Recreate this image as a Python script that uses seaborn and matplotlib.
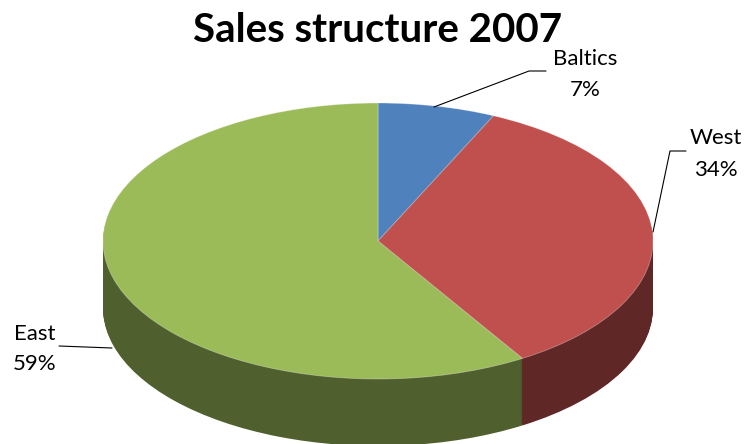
import matplotlib
matplotlib.use("Agg")
import matplotlib.pyplot as plt
import matplotlib.transforms as mtrans
import seaborn as sns

labels = ["Baltics", "West", "East"]
shares = [6.9, 34.3, 58.8]
top_colors = ["#4F81BD", "#C0504D", "#9BBB59"]
wall_colors = ["#2F4D71", "#5F2726", "#4F5F2D"]
title = "Sales structure 2007"

sns.set_theme(style="white")
plt.rcParams["font.family"] = ["Lato", "DejaVu Sans"]

W, H = 744, 444
CX, CY, RX, RY, DEPTH = 378, 241, 275, 138, 67

fig = plt.figure(figsize=(W / 100, H / 100), dpi=100)
ax = fig.add_axes([0, 0, 1, 1])

# Side wall: stacked copies of the pie, shifted downward
for step in range(DEPTH, 0, -1):
    ax.pie(shares, colors=sns.color_palette(wall_colors), startangle=90, counterclock=False,
           center=(0, -step / RY), radius=1, wedgeprops={"linewidth": 0})
# Top face
ax.pie(shares, colors=sns.color_palette(top_colors), startangle=90, counterclock=False,
       radius=1, wedgeprops={"linewidth": 0.6, "edgecolor": (1, 1, 1, 0.35)})

ax.set_aspect("auto")
ax.set_xlim(-CX / RX, (W - CX) / RX)
ax.set_ylim(-(H - CY) / RY, CY / RY)
ax.axis("off")

# Pixel-space transform (origin top-left) for the annotations
px = mtrans.Affine2D().scale(1 / W, -1 / H).translate(0, 1) + fig.transFigure

fig.text(378, 30, title, transform=px, ha="center", va="center",
         fontsize=29, fontweight="bold", color="black")

LABEL_FS = 16
label_pos = {"Baltics": [(585, 59), (585, 90)],
             "West": [(716, 138), (716, 170)],
             "East": [(35, 334), (35, 364)]}
for name, share in zip(labels, shares):
    (x1, y1), (x2, y2) = label_pos[name]
    fig.text(x1, y1, name, transform=px, ha="center", va="center", fontsize=LABEL_FS, color="black")
    fig.text(x2, y2, f"{round(share)}%", transform=px, ha="center", va="center", fontsize=LABEL_FS, color="black")

leaders = [([546, 529, 434], [71, 71, 107]),
           ([686, 670, 653], [151, 151, 232]),
           ([59, 112], [346, 348])]
for xs, ys in leaders:
    ax.plot(xs, ys, transform=px, color="black", lw=0.8, clip_on=False)

fig.savefig("out.png", dpi=100)
